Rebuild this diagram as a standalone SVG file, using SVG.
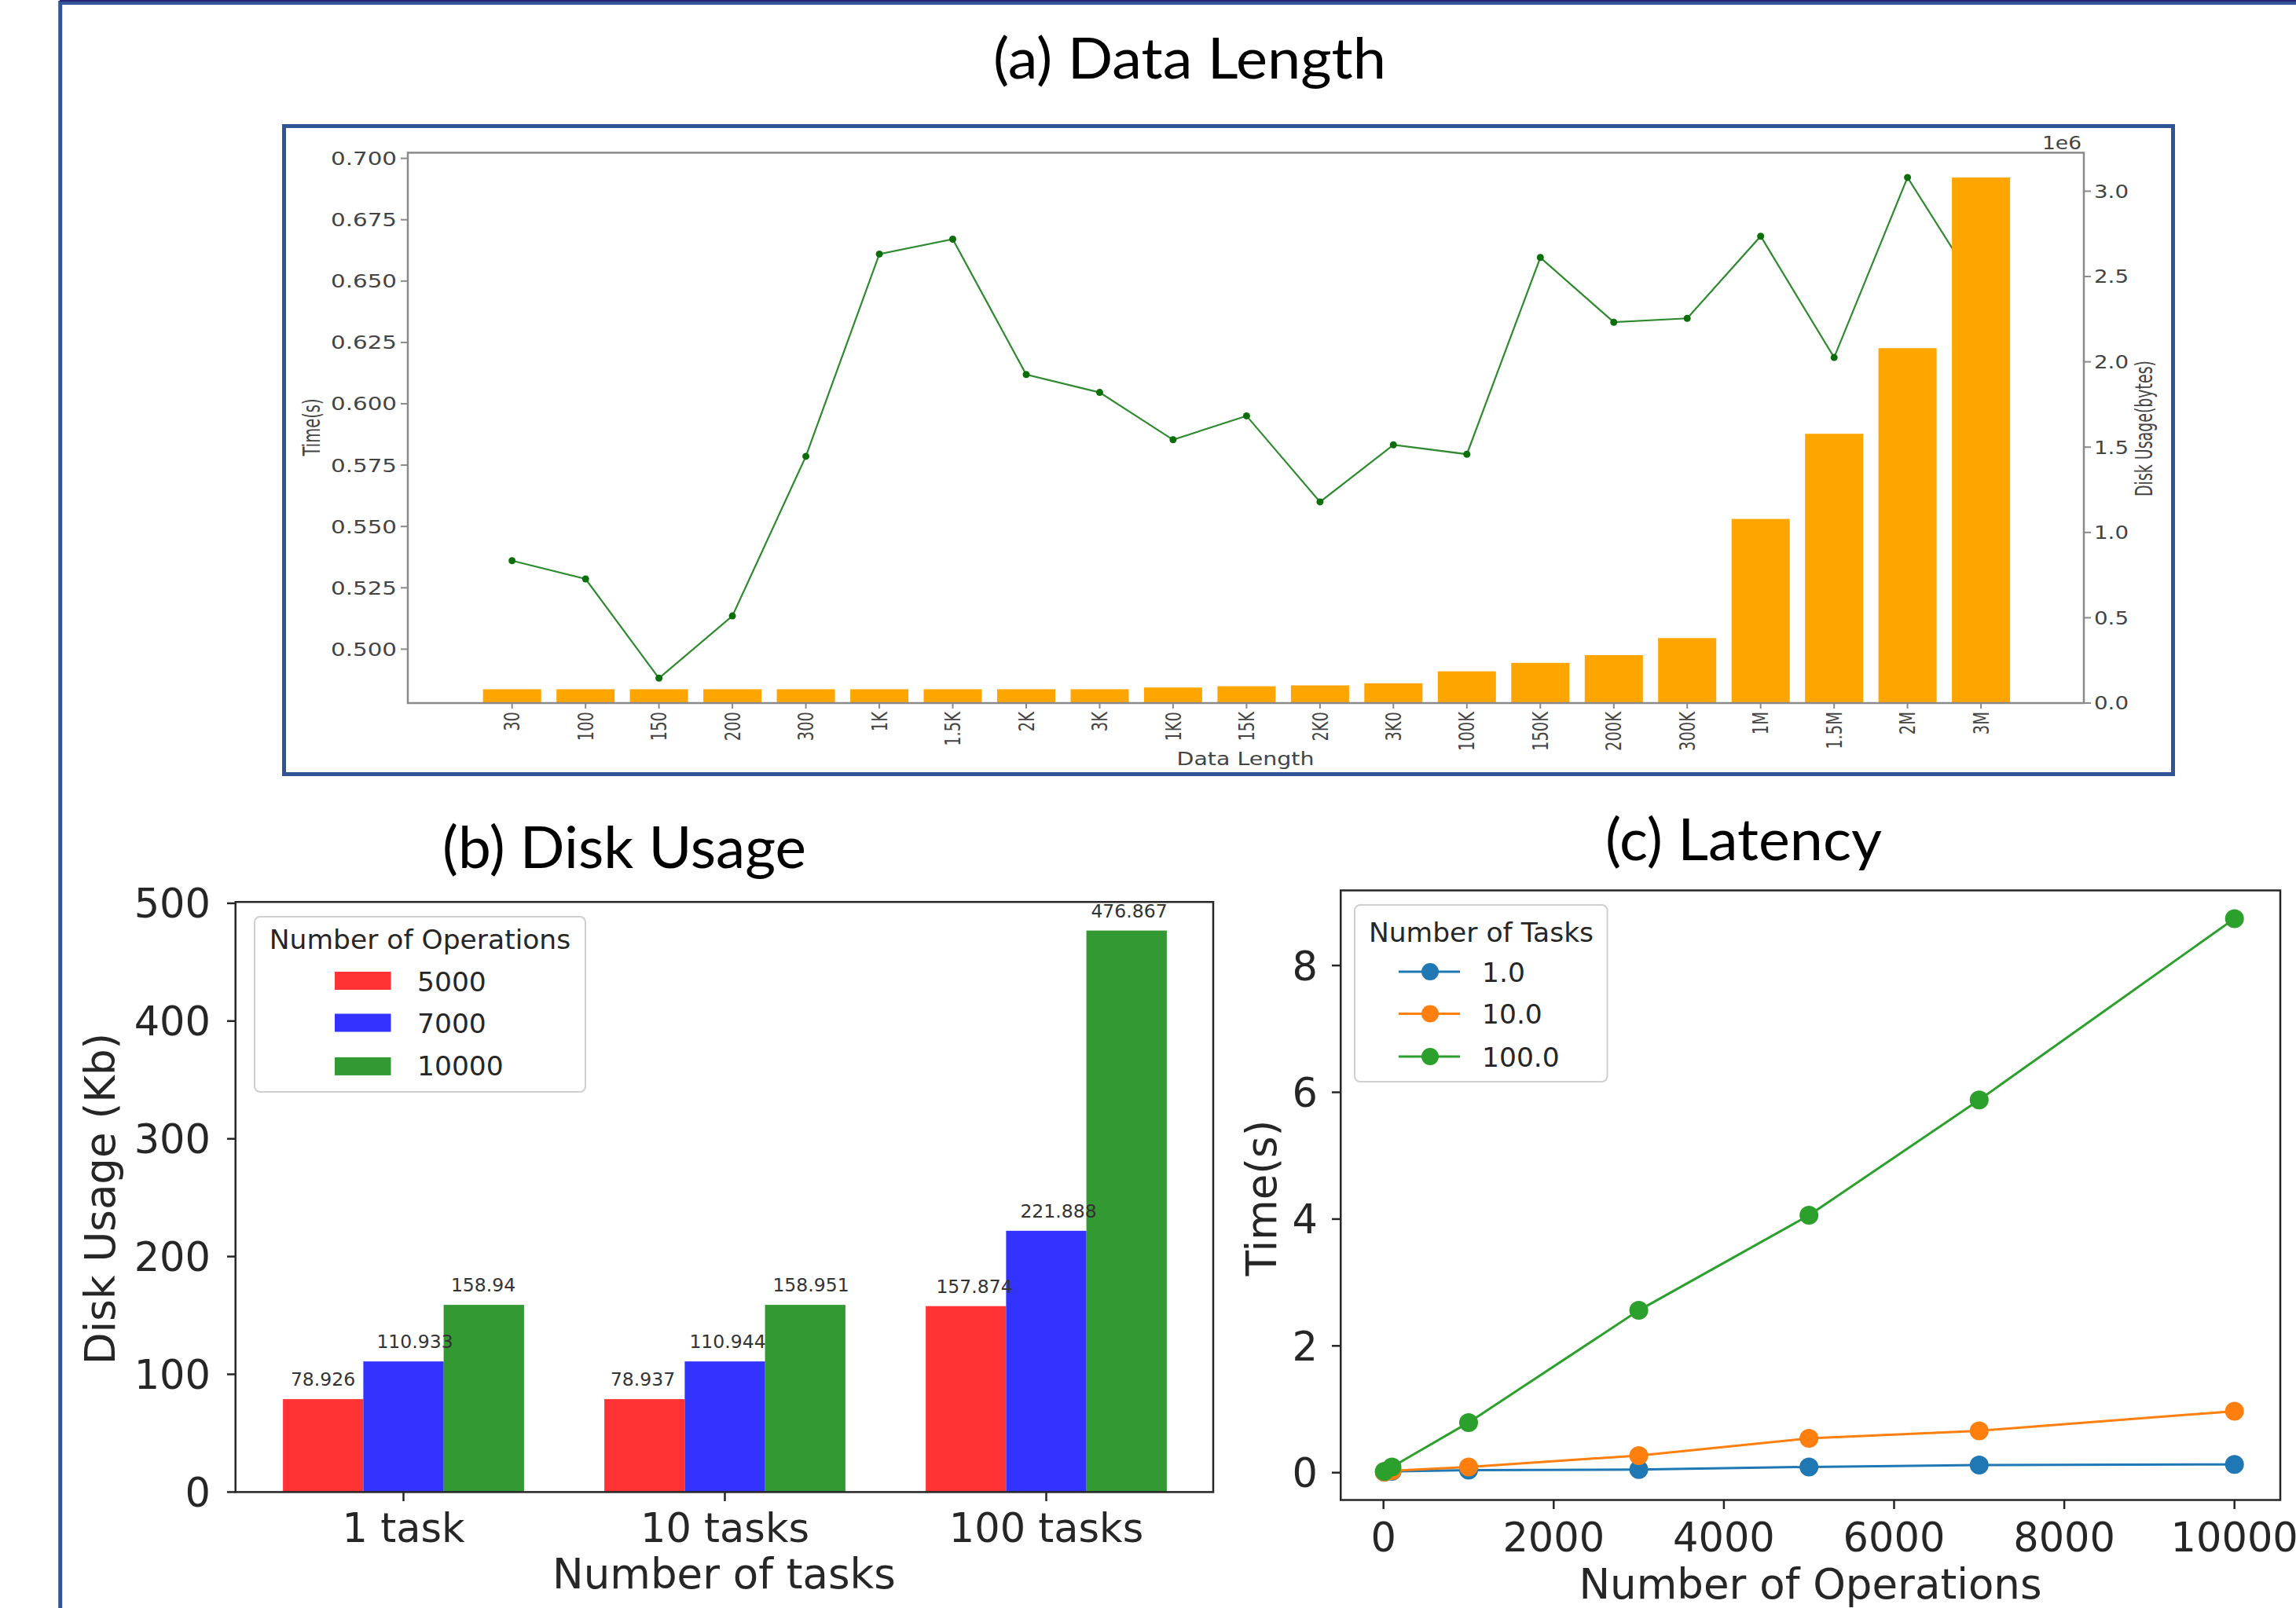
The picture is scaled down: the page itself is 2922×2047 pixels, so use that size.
<svg xmlns="http://www.w3.org/2000/svg" width="2922" height="2047" viewBox="0 0 2922 2047">
  <style>
    .ttl{font-family:Lato,"Open Sans","Liberation Sans",sans-serif;fill:#000}
    .mpl{font-family:"DejaVu Sans","Liberation Sans",sans-serif}
    .frame{fill:none;stroke:#2F5597;stroke-width:5}
    .a-txt{fill:#444;font-size:23px}
    .a-xt{fill:#444;font-size:19.5px}
    .a-spine{fill:none;stroke:#8a8a8a;stroke-width:2.5}
    .a-bar{fill:#FFA500}
    .a-tick{stroke:#8a8a8a;stroke-width:2}
    .spine{fill:none;stroke:#262626;stroke-width:2.5}
    .tick{stroke:#262626;stroke-width:2.5}
    .tl{fill:#262626;font-size:51px}
    .al{fill:#262626;font-size:53px}
    .val{fill:#333;font-size:23.5px}
    .leg{fill:#fff;fill-opacity:0.85;stroke:#cfcfcf;stroke-width:2}
    .lt{fill:#262626;font-size:34.5px}
  </style>
  <defs>
    <clipPath id="clip-b"><rect x="299.7" y="1149.5" width="1244.3" height="752"/></clipPath>
  </defs>

  <rect width="2922" height="2047" fill="#fff"/>

  <!-- outer frame -->
  <g id="outer-frame">
    <rect class="frame" x="76.7" y="3.5" width="3000" height="2200"/>
    <line x1="76" y1="1" x2="2922" y2="1" stroke="#2a2379" stroke-width="2"/>
  </g>

  <!-- panel (a): data length -->
  <g id="panel-a">
    <text class="ttl" x="1264" y="100" font-size="72" textLength="500" lengthAdjust="spacingAndGlyphs">(a) Data Length</text>
    <rect class="frame" x="361.5" y="160.5" width="2404" height="825"/>

    <!-- time series (drawn under the bars) -->
    <g id="a-time-line">
      <polyline fill="none" stroke="#2f8a2f" stroke-width="2.2" points="651.7,713.7 745.2,737.0 838.6,863.3 932.1,784.1 1025.6,580.9 1119.1,323.4 1212.5,304.5 1306.0,476.8 1399.5,499.6 1492.9,559.8 1586.4,529.4 1679.9,638.9 1773.3,566.3 1866.8,578.2 1960.3,327.8 2053.8,410.2 2147.2,405.3 2240.7,300.7 2334.2,455.1 2427.6,225.9 2521.1,374"/>
      <g fill="#0b6e0b">
        <circle cx="651.7" cy="713.7" r="4.5"/><circle cx="745.2" cy="737.0" r="4.5"/>
        <circle cx="838.6" cy="863.3" r="4.5"/><circle cx="932.1" cy="784.1" r="4.5"/>
        <circle cx="1025.6" cy="580.9" r="4.5"/><circle cx="1119.1" cy="323.4" r="4.5"/>
        <circle cx="1212.5" cy="304.5" r="4.5"/><circle cx="1306.0" cy="476.8" r="4.5"/>
        <circle cx="1399.5" cy="499.6" r="4.5"/><circle cx="1492.9" cy="559.8" r="4.5"/>
        <circle cx="1586.4" cy="529.4" r="4.5"/><circle cx="1679.9" cy="638.9" r="4.5"/>
        <circle cx="1773.3" cy="566.3" r="4.5"/><circle cx="1866.8" cy="578.2" r="4.5"/>
        <circle cx="1960.3" cy="327.8" r="4.5"/><circle cx="2053.8" cy="410.2" r="4.5"/>
        <circle cx="2147.2" cy="405.3" r="4.5"/><circle cx="2240.7" cy="300.7" r="4.5"/>
        <circle cx="2334.2" cy="455.1" r="4.5"/><circle cx="2427.6" cy="225.9" r="4.5"/>
        <circle cx="2521.1" cy="374" r="4.5"/>
      </g>
    </g>

    <!-- disk usage bars -->
    <g id="a-bars" class="a-bar">
      <rect x="614.7" y="877.4" width="74" height="17.6"/>
      <rect x="708.2" y="877.4" width="74" height="17.6"/>
      <rect x="801.6" y="877.4" width="74" height="17.6"/>
      <rect x="895.1" y="877.4" width="74" height="17.6"/>
      <rect x="988.6" y="877.4" width="74" height="17.6"/>
      <rect x="1082.1" y="877.4" width="74" height="17.6"/>
      <rect x="1175.5" y="877.4" width="74" height="17.6"/>
      <rect x="1269.0" y="877.4" width="74" height="17.6"/>
      <rect x="1362.5" y="877.4" width="74" height="17.6"/>
      <rect x="1455.9" y="875.2" width="74" height="19.8"/>
      <rect x="1549.4" y="873.6" width="74" height="21.4"/>
      <rect x="1642.9" y="872.5" width="74" height="22.5"/>
      <rect x="1736.3" y="869.8" width="74" height="25.2"/>
      <rect x="1829.8" y="854.6" width="74" height="40.4"/>
      <rect x="1923.3" y="843.8" width="74" height="51.2"/>
      <rect x="2016.8" y="834.0" width="74" height="61"/>
      <rect x="2110.2" y="812.3" width="74" height="82.7"/>
      <rect x="2203.7" y="660.6" width="74" height="234.4"/>
      <rect x="2297.2" y="552.2" width="74" height="342.8"/>
      <rect x="2390.6" y="443.2" width="74" height="451.8"/>
      <rect x="2484.1" y="225.9" width="74" height="669.1"/>
    </g>

    <!-- axes -->
    <g id="a-axes">
      <rect class="a-spine" x="519" y="194.4" width="2133" height="700.6"/>
      <g class="a-tick">
        <line x1="510" y1="201.6" x2="519" y2="201.6"/><line x1="510" y1="279.7" x2="519" y2="279.7"/>
        <line x1="510" y1="357.8" x2="519" y2="357.8"/><line x1="510" y1="435.9" x2="519" y2="435.9"/>
        <line x1="510" y1="514.0" x2="519" y2="514.0"/><line x1="510" y1="592.1" x2="519" y2="592.1"/>
        <line x1="510" y1="670.2" x2="519" y2="670.2"/><line x1="510" y1="748.3" x2="519" y2="748.3"/>
        <line x1="510" y1="826.4" x2="519" y2="826.4"/>
        <line x1="2652" y1="243.4" x2="2661" y2="243.4"/><line x1="2652" y1="352" x2="2661" y2="352"/>
        <line x1="2652" y1="460.6" x2="2661" y2="460.6"/><line x1="2652" y1="569.2" x2="2661" y2="569.2"/>
        <line x1="2652" y1="677.8" x2="2661" y2="677.8"/><line x1="2652" y1="786.4" x2="2661" y2="786.4"/>
        <line x1="2652" y1="895" x2="2661" y2="895"/>
      </g>
      <g class="a-tick">
        <line x1="651.7" y1="895" x2="651.7" y2="902"/><line x1="745.2" y1="895" x2="745.2" y2="902"/>
        <line x1="838.6" y1="895" x2="838.6" y2="902"/><line x1="932.1" y1="895" x2="932.1" y2="902"/>
        <line x1="1025.6" y1="895" x2="1025.6" y2="902"/><line x1="1119.1" y1="895" x2="1119.1" y2="902"/>
        <line x1="1212.5" y1="895" x2="1212.5" y2="902"/><line x1="1306.0" y1="895" x2="1306.0" y2="902"/>
        <line x1="1399.5" y1="895" x2="1399.5" y2="902"/><line x1="1492.9" y1="895" x2="1492.9" y2="902"/>
        <line x1="1586.4" y1="895" x2="1586.4" y2="902"/><line x1="1679.9" y1="895" x2="1679.9" y2="902"/>
        <line x1="1773.3" y1="895" x2="1773.3" y2="902"/><line x1="1866.8" y1="895" x2="1866.8" y2="902"/>
        <line x1="1960.3" y1="895" x2="1960.3" y2="902"/><line x1="2053.8" y1="895" x2="2053.8" y2="902"/>
        <line x1="2147.2" y1="895" x2="2147.2" y2="902"/><line x1="2240.7" y1="895" x2="2240.7" y2="902"/>
        <line x1="2334.2" y1="895" x2="2334.2" y2="902"/><line x1="2427.6" y1="895" x2="2427.6" y2="902"/>
        <line x1="2521.1" y1="895" x2="2521.1" y2="902"/>
      </g>
      <!-- left axis labels -->
      <g class="mpl a-txt" text-anchor="end">
        <text x="505" y="210" textLength="84" lengthAdjust="spacingAndGlyphs">0.700</text>
        <text x="505" y="288.1" textLength="84" lengthAdjust="spacingAndGlyphs">0.675</text>
        <text x="505" y="366.2" textLength="84" lengthAdjust="spacingAndGlyphs">0.650</text>
        <text x="505" y="444.3" textLength="84" lengthAdjust="spacingAndGlyphs">0.625</text>
        <text x="505" y="522.4" textLength="84" lengthAdjust="spacingAndGlyphs">0.600</text>
        <text x="505" y="600.5" textLength="84" lengthAdjust="spacingAndGlyphs">0.575</text>
        <text x="505" y="678.6" textLength="84" lengthAdjust="spacingAndGlyphs">0.550</text>
        <text x="505" y="756.7" textLength="84" lengthAdjust="spacingAndGlyphs">0.525</text>
        <text x="505" y="834.8" textLength="84" lengthAdjust="spacingAndGlyphs">0.500</text>
      </g>
      <!-- right axis labels -->
      <g class="mpl a-txt">
        <text x="2665" y="251.8" textLength="44" lengthAdjust="spacingAndGlyphs">3.0</text>
        <text x="2665" y="360.4" textLength="44" lengthAdjust="spacingAndGlyphs">2.5</text>
        <text x="2665" y="469" textLength="44" lengthAdjust="spacingAndGlyphs">2.0</text>
        <text x="2665" y="577.6" textLength="44" lengthAdjust="spacingAndGlyphs">1.5</text>
        <text x="2665" y="686.2" textLength="44" lengthAdjust="spacingAndGlyphs">1.0</text>
        <text x="2665" y="794.8" textLength="44" lengthAdjust="spacingAndGlyphs">0.5</text>
        <text x="2665" y="903.4" textLength="44" lengthAdjust="spacingAndGlyphs">0.0</text>
        <text x="2649" y="190" text-anchor="end" textLength="50" lengthAdjust="spacingAndGlyphs">1e6</text>
      </g>
      <!-- category labels -->
      <g class="mpl a-xt" text-anchor="end">
        <text transform="translate(661.3,906) scale(1.35,1) rotate(-90)">30</text>
        <text transform="translate(754.8,906) scale(1.35,1) rotate(-90)">100</text>
        <text transform="translate(848.2,906) scale(1.35,1) rotate(-90)">150</text>
        <text transform="translate(941.7,906) scale(1.35,1) rotate(-90)">200</text>
        <text transform="translate(1035.2,906) scale(1.35,1) rotate(-90)">300</text>
        <text transform="translate(1128.7,906) scale(1.35,1) rotate(-90)">1K</text>
        <text transform="translate(1222.1,906) scale(1.35,1) rotate(-90)">1.5K</text>
        <text transform="translate(1315.6,906) scale(1.35,1) rotate(-90)">2K</text>
        <text transform="translate(1409.1,906) scale(1.35,1) rotate(-90)">3K</text>
        <text transform="translate(1502.5,906) scale(1.35,1) rotate(-90)">1K0</text>
        <text transform="translate(1596.0,906) scale(1.35,1) rotate(-90)">15K</text>
        <text transform="translate(1689.5,906) scale(1.35,1) rotate(-90)">2K0</text>
        <text transform="translate(1782.9,906) scale(1.35,1) rotate(-90)">3K0</text>
        <text transform="translate(1876.4,906) scale(1.35,1) rotate(-90)">100K</text>
        <text transform="translate(1969.9,906) scale(1.35,1) rotate(-90)">150K</text>
        <text transform="translate(2063.4,906) scale(1.35,1) rotate(-90)">200K</text>
        <text transform="translate(2156.8,906) scale(1.35,1) rotate(-90)">300K</text>
        <text transform="translate(2250.3,906) scale(1.35,1) rotate(-90)">1M</text>
        <text transform="translate(2343.8,906) scale(1.35,1) rotate(-90)">1.5M</text>
        <text transform="translate(2437.2,906) scale(1.35,1) rotate(-90)">2M</text>
        <text transform="translate(2530.7,906) scale(1.35,1) rotate(-90)">3M</text>
      </g>
      <g class="mpl a-txt" text-anchor="middle" font-size="22">
        <text x="1585" y="974" textLength="175" lengthAdjust="spacingAndGlyphs">Data Length</text>
        <text transform="translate(407,544) scale(1.28,1) rotate(-90)" textLength="73" lengthAdjust="spacingAndGlyphs">Time(s)</text>
        <text transform="translate(2739,545.5) scale(1.28,1) rotate(-90)" textLength="173" lengthAdjust="spacingAndGlyphs">Disk Usage(bytes)</text>
      </g>
    </g>
  </g>

  <!-- panel (b): disk usage -->
  <g id="panel-b">
    <text class="ttl" x="563" y="1105" font-size="74" textLength="463" lengthAdjust="spacingAndGlyphs">(b) Disk Usage</text>
    <g id="b-bars">
      <g fill="#ff3333">
        <rect x="360.1" y="1781.1" width="102.3" height="118.3"/>
        <rect x="769.1" y="1781.1" width="102.3" height="118.3"/>
        <rect x="1178.1" y="1662.7" width="102.3" height="236.7"/>
      </g>
      <g fill="#3333ff">
        <rect x="462.4" y="1733.1" width="102.3" height="166.3"/>
        <rect x="871.4" y="1733.1" width="102.3" height="166.3"/>
        <rect x="1280.4" y="1566.8" width="102.3" height="332.6"/>
      </g>
      <g fill="#339933">
        <rect x="564.6" y="1661.1" width="102.3" height="238.3"/>
        <rect x="973.6" y="1661.1" width="102.3" height="238.3"/>
        <rect x="1382.6" y="1184.6" width="102.3" height="714.8"/>
      </g>
    </g>
    <g class="mpl val" text-anchor="middle" clip-path="url(#clip-b)">
      <text x="411" y="1764">78.926</text>
      <text x="818" y="1764">78.937</text>
      <text x="1240" y="1646">157.874</text>
      <text x="528" y="1716">110.933</text>
      <text x="926" y="1716">110.944</text>
      <text x="1347" y="1550">221.888</text>
      <text x="615" y="1644">158.94</text>
      <text x="1032" y="1644">158.951</text>
      <text x="1437" y="1168">476.867</text>
    </g>
    <g id="b-legend">
      <rect class="leg" x="324" y="1167" width="421" height="223" rx="7"/>
      <text class="mpl lt" x="534.5" y="1208" text-anchor="middle">Number of Operations</text>
      <rect x="426" y="1237" width="71.5" height="23" fill="#ff3333"/>
      <rect x="426" y="1290.5" width="71.5" height="23" fill="#3333ff"/>
      <rect x="426" y="1345.9" width="71.5" height="23" fill="#339933"/>
      <text class="mpl lt" x="531" y="1261.5">5000</text>
      <text class="mpl lt" x="531" y="1315">7000</text>
      <text class="mpl lt" x="531" y="1369">10000</text>
    </g>
    <g id="b-axes">
      <rect class="spine" x="299.7" y="1148.2" width="1244.3" height="751.2"/>
      <g class="tick">
        <line x1="289" y1="1149.9" x2="299.7" y2="1149.9"/><line x1="289" y1="1299.8" x2="299.7" y2="1299.8"/>
        <line x1="289" y1="1449.7" x2="299.7" y2="1449.7"/><line x1="289" y1="1599.6" x2="299.7" y2="1599.6"/>
        <line x1="289" y1="1749.5" x2="299.7" y2="1749.5"/><line x1="289" y1="1899.4" x2="299.7" y2="1899.4"/>
        <line x1="513.5" y1="1899.4" x2="513.5" y2="1911"/><line x1="922.5" y1="1899.4" x2="922.5" y2="1911"/>
        <line x1="1331.5" y1="1899.4" x2="1331.5" y2="1911"/>
      </g>
      <g class="mpl tl" text-anchor="end">
        <text x="268" y="1168.4">500</text>
        <text x="268" y="1318.3">400</text>
        <text x="268" y="1468.2">300</text>
        <text x="268" y="1618.1">200</text>
        <text x="268" y="1768">100</text>
        <text x="268" y="1917.9">0</text>
      </g>
      <g class="mpl tl" text-anchor="middle" font-size="52">
        <text x="513.5" y="1963">1 task</text>
        <text x="922.5" y="1963">10 tasks</text>
        <text x="1331.5" y="1963">100 tasks</text>
      </g>
      <text class="mpl al" x="921.5" y="2022" text-anchor="middle">Number of tasks</text>
      <text class="mpl al" transform="translate(146,1526) rotate(-90)" text-anchor="middle">Disk Usage (Kb)</text>
    </g>
  </g>

  <!-- panel (c): latency -->
  <g id="panel-c">
    <text class="ttl" x="2043" y="1095" font-size="74" textLength="352" lengthAdjust="spacingAndGlyphs">(c) Latency</text>
    <g id="c-series">
      <g id="series-1">
        <polyline fill="none" stroke="#1f77b4" stroke-width="3" points="1761.8,1873.9 1771.5,1873.1 1869.0,1871.5 2085.6,1870.7 2302.2,1867.4 2518.8,1865.0 2843.7,1864.2"/>
        <g fill="#1f77b4">
          <circle cx="1761.8" cy="1873.9" r="12"/><circle cx="1771.5" cy="1873.1" r="12"/>
          <circle cx="1869.0" cy="1871.5" r="12"/><circle cx="2085.6" cy="1870.7" r="12"/>
          <circle cx="2302.2" cy="1867.4" r="12"/><circle cx="2518.8" cy="1865.0" r="12"/>
          <circle cx="2843.7" cy="1864.2" r="12"/>
        </g>
      </g>
      <g id="series-10">
        <polyline fill="none" stroke="#ff7f0e" stroke-width="3" points="1761.8,1873.9 1771.5,1872.3 1869.0,1867.4 2085.6,1852.9 2302.2,1831.1 2518.8,1821.4 2843.7,1796.4"/>
        <g fill="#ff7f0e">
          <circle cx="1761.8" cy="1873.9" r="12"/><circle cx="1771.5" cy="1872.3" r="12"/>
          <circle cx="1869.0" cy="1867.4" r="12"/><circle cx="2085.6" cy="1852.9" r="12"/>
          <circle cx="2302.2" cy="1831.1" r="12"/><circle cx="2518.8" cy="1821.4" r="12"/>
          <circle cx="2843.7" cy="1796.4" r="12"/>
        </g>
      </g>
      <g id="series-100">
        <polyline fill="none" stroke="#2ca02c" stroke-width="3" points="1761.8,1873.1 1771.5,1867.4 1869.0,1810.9 2085.6,1668.1 2302.2,1547.1 2518.8,1400.2 2843.7,1169.4"/>
        <g fill="#2ca02c">
          <circle cx="1761.8" cy="1873.1" r="12"/><circle cx="1771.5" cy="1867.4" r="12"/>
          <circle cx="1869.0" cy="1810.9" r="12"/><circle cx="2085.6" cy="1668.1" r="12"/>
          <circle cx="2302.2" cy="1547.1" r="12"/><circle cx="2518.8" cy="1400.2" r="12"/>
          <circle cx="2843.7" cy="1169.4" r="12"/>
        </g>
      </g>
    </g>
    <g id="c-legend">
      <rect class="leg" x="1724" y="1152" width="321.5" height="225" rx="7"/>
      <text class="mpl lt" x="1885" y="1199" text-anchor="middle">Number of Tasks</text>
      <line x1="1780" y1="1237" x2="1858" y2="1237" stroke="#1f77b4" stroke-width="3"/>
      <circle cx="1820" cy="1237" r="11" fill="#1f77b4"/>
      <line x1="1780" y1="1290.5" x2="1858" y2="1290.5" stroke="#ff7f0e" stroke-width="3"/>
      <circle cx="1820" cy="1290.5" r="11" fill="#ff7f0e"/>
      <line x1="1780" y1="1345" x2="1858" y2="1345" stroke="#2ca02c" stroke-width="3"/>
      <circle cx="1820" cy="1345" r="11" fill="#2ca02c"/>
      <text class="mpl lt" x="1886" y="1249.5">1.0</text>
      <text class="mpl lt" x="1886" y="1303">10.0</text>
      <text class="mpl lt" x="1886" y="1357.5">100.0</text>
    </g>
    <g id="c-axes">
      <rect class="spine" x="1706.25" y="1133.5" width="1195.75" height="776"/>
      <g class="tick">
        <line x1="1695" y1="1229.1" x2="1706.25" y2="1229.1"/><line x1="1695" y1="1390.5" x2="1706.25" y2="1390.5"/>
        <line x1="1695" y1="1551.9" x2="1706.25" y2="1551.9"/><line x1="1695" y1="1713.3" x2="1706.25" y2="1713.3"/>
        <line x1="1695" y1="1874.7" x2="1706.25" y2="1874.7"/>
        <line x1="1760.7" y1="1909.5" x2="1760.7" y2="1921"/><line x1="1977.3" y1="1909.5" x2="1977.3" y2="1921"/>
        <line x1="2193.9" y1="1909.5" x2="2193.9" y2="1921"/><line x1="2410.5" y1="1909.5" x2="2410.5" y2="1921"/>
        <line x1="2627.1" y1="1909.5" x2="2627.1" y2="1921"/><line x1="2843.7" y1="1909.5" x2="2843.7" y2="1921"/>
      </g>
      <g class="mpl tl" text-anchor="end">
        <text x="1677" y="1247.6">8</text>
        <text x="1677" y="1409">6</text>
        <text x="1677" y="1570.4">4</text>
        <text x="1677" y="1731.8">2</text>
        <text x="1677" y="1893.2">0</text>
      </g>
      <g class="mpl tl" text-anchor="middle">
        <text x="1760.7" y="1975">0</text>
        <text x="1977.3" y="1975">2000</text>
        <text x="2193.9" y="1975">4000</text>
        <text x="2410.5" y="1975">6000</text>
        <text x="2627.1" y="1975">8000</text>
        <text x="2843.7" y="1975">10000</text>
      </g>
      <text class="mpl al" x="2304" y="2035" text-anchor="middle" font-size="50">Number of Operations</text>
      <text class="mpl al" transform="translate(1623.6,1525) rotate(-90)" text-anchor="middle" font-size="52">Time(s)</text>
    </g>
  </g>
</svg>
